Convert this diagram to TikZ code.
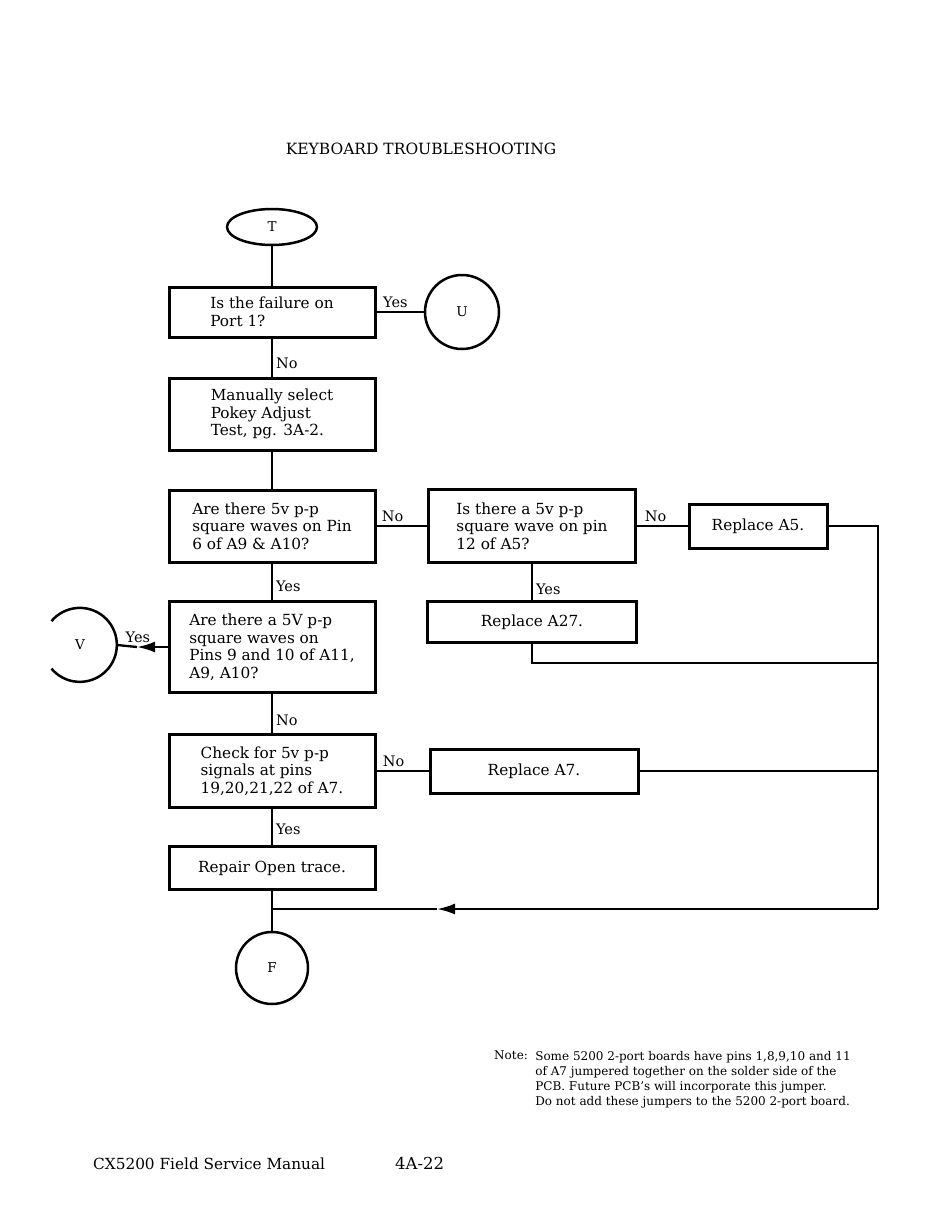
\documentclass[tikz,border=0pt]{standalone}
\usepackage{fontspec}
\setmainfont{DejaVu Serif}
\usepackage{tikz}
\usetikzlibrary{positioning, shapes.geometric, arrows.meta}
\tikzset{tbox/.style={draw, line width=3pt, minimum width=206pt, align=left, inner sep=0pt, font=\fontsize{15.3}{17.5}\selectfont}}
\tikzset{tterm/.style={draw, line width=2.5pt, inner sep=0pt, font=\fontsize{13.5}{15}\selectfont}}
\tikzset{conn/.style={draw, line width=2.3pt}}
\tikzset{connarr/.style={conn, -{Latex[length=18pt, width=11pt]}}}
\tikzset{lbl/.style={inner sep=3pt, font=\fontsize{14.5}{17}\selectfont}}
\tikzset{notetxt/.style={inner sep=2pt, align=left, font=\fontsize{12}{15}\selectfont}}

\begin{document}
\begin{tikzpicture}[x=1pt, y=-1pt]
    \useasboundingbox (0,0) rectangle (950,1221);
    \node[anchor=base, font=\fontsize{15.5}{18}\selectfont] (title) at (421,154) {KEYBOARD TROUBLESHOOTING};

    % main column
    \node[tterm, ellipse, minimum width=90pt, minimum height=36pt] (T) at (272,227) {T};
    \node[tbox, minimum height=50pt] (fail) at (272,312) {Is the failure on\\Port 1?};
    \node[tterm, circle, minimum size=74pt] (U) at (462,312) {U};
    \node[tbox, minimum height=72pt] (pokey) at (272,414) {Manually select\\Pokey Adjust\\Test, pg. 3A-2.};
    \node[tbox, minimum height=72pt] (pin6) at (272,526) {Are there 5v p-p\\square waves on Pin\\6 of A9 \& A10?};
    \node[tbox, minimum height=91pt] (pin9) at (272,647) {Are there a 5V p-p\\square waves on\\Pins 9 and 10 of A11,\\A9, A10?};
    \node[tbox, minimum height=73pt] (chkA7) at (272,771) {Check for 5v p-p\\signals at pins\\19,20,21,22 of A7.};
    \node[tbox, minimum height=43pt] (trace) at (272,868) {Repair Open trace.};
    \node[tterm, circle, minimum size=72pt] (F) at (272,968) {F};

    % right side
    \node[tbox, minimum width=207pt, minimum height=73pt] (pin12) at (532,526) {Is there a 5v p-p\\square wave on pin\\12 of A5?};
    \node[tbox, minimum width=138pt, minimum height=44pt] (repA5) at (758,526) {Replace A5.};
    \node[tbox, minimum width=209pt, minimum height=41pt] (repA27) at (532,622) {Replace A27.};
    \node[tbox, minimum width=208pt, minimum height=44pt] (repA7) at (534,771) {Replace A7.};

    % V, only partly printed
    \node[circle, minimum size=74pt, inner sep=0pt, font=\fontsize{13.5}{15}\selectfont] (V) at (80,645) {V};
    \draw[line width=2.5pt] (V.140) arc[start angle=140, end angle=-140, radius=37pt];

    \coordinate (busTop) at (878,526);
    \coordinate (busA27) at (878,663);
    \coordinate (busBot) at (878,909);
    \coordinate (retTip) at (437,909);
    \coordinate (retEnd) at (272,909);
    \coordinate (vTip) at (137,647);

    \draw[conn] (T) -- (fail);
    \draw[conn] (fail) -- node[lbl, above, pos=0.4] {Yes} (U);
    \draw[conn] (fail) -- node[lbl, right, pos=0.65] {No} (pokey);
    \draw[conn] (pokey) -- (pin6);
    \draw[conn] (pin6) -- node[lbl, above, pos=0.32] {No} (pin12);
    \draw[conn] (pin6) -- node[lbl, right, pos=0.62] {Yes} (pin9);
    \draw[conn] (pin12) -- node[lbl, above, pos=0.37] {No} (repA5);
    \draw[conn] (pin12) -- node[lbl, right, pos=0.7] {Yes} (repA27);
    \draw[connarr] (pin9.west) -- node[lbl, above, pos=0.97] {Yes} (vTip);
    \draw[conn] (vTip) -- (V.east);
    \draw[conn] (pin9) -- node[lbl, right, pos=0.67] {No} (chkA7);
    \draw[conn] (chkA7) -- node[lbl, above, pos=0.33] {No} (repA7);
    \draw[conn] (chkA7) -- node[lbl, right, pos=0.56] {Yes} (trace);
    \draw[conn] (trace) -- (F);

    % return bus
    \draw[conn] (repA5.east) -- (busTop) -- (busBot);
    \draw[conn] (repA27.south) |- (busA27);
    \draw[conn] (repA7.east) -- (repA7.east -| busTop);
    \draw[connarr] (busBot) -- (retTip);
    \draw[conn] (retTip) -- (retEnd);

    % note and footer
    \node[notetxt, anchor=north west] (notehd) at (492,1049) {Note:};
    \node[notetxt, anchor=north west] (notebody) at ([xshift=3pt]notehd.north east) {Some 5200 2-port boards have pins 1,8,9,10 and 11\\of A7 jumpered together on the solder side of the\\PCB.  Future PCB's will incorporate this jumper.\\Do not add these jumpers to the 5200 2-port board.};
    \node[anchor=base west, inner sep=0pt, font=\fontsize{15.3}{18}\selectfont] (manual) at (93,1169) {CX5200 Field Service Manual};
    \node[anchor=base west, inner sep=0pt, font=\fontsize{16.5}{19}\selectfont] (page) at (395,1169) {4A-22};
\end{tikzpicture}
\end{document}
